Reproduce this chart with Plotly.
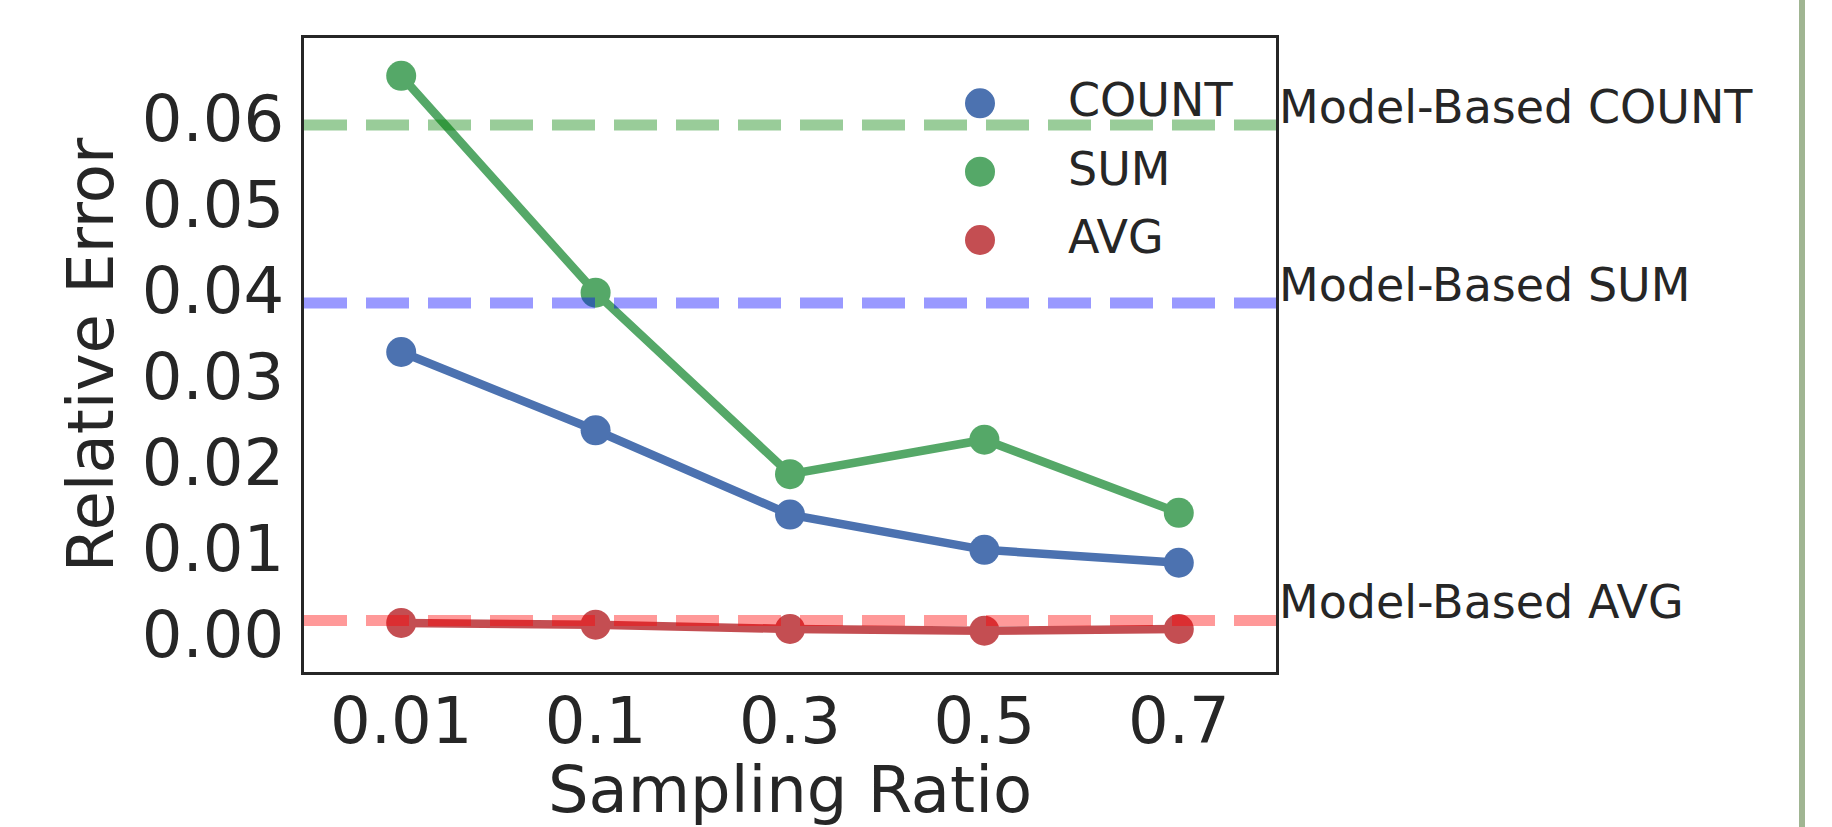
import plotly.graph_objects as go

# ---------------- data ----------------
sampling_ratios = ["0.01", "0.1", "0.3", "0.5", "0.7"]
count_err = [0.0329, 0.0238, 0.0140, 0.0099, 0.0084]
sum_err = [0.0650, 0.0398, 0.0187, 0.0227, 0.0142]
avg_err = [0.0014, 0.0012, 0.0007, 0.0005, 0.0007]

series_names = ["COUNT", "SUM", "AVG"]
series_values = [count_err, sum_err, avg_err]
series_colors = ["#4C72B0", "#55A868", "#C44E52"]

model_labels = ["Model-Based COUNT", "Model-Based SUM", "Model-Based AVG"]
model_values = [0.0593, 0.0386, 0.0017]
model_colors = ["rgba(0,128,0,0.4)", "rgba(0,0,255,0.4)", "rgba(255,0,0,0.4)"]

y_tick_vals = [0.00, 0.01, 0.02, 0.03, 0.04, 0.05, 0.06]
y_tick_text = ["0.00", "0.01", "0.02", "0.03", "0.04", "0.05", "0.06"]

# ---------------- layout geometry (pixels) ----------------
W, H = 1832, 827
ML, MR, MT, MB = 304, 556, 38, 155
PW = W - ML - MR
PH = H - MT - MB


def px_x(x):
    return (x - ML) / PW


def px_y(y):
    return (H - MB - y) / PH


FONT = "DejaVu Sans"
TXT = "#262626"

fig = go.Figure()

for name, vals, col in zip(series_names, series_values, series_colors):
    fig.add_trace(go.Scatter(
        x=sampling_ratios, y=vals, name=name, mode="lines+markers",
        line=dict(color=col, width=8.5),
        marker=dict(color=col, size=30),
        showlegend=False,
    ))

shapes = []
annotations = []

# model-based reference lines
for lab, val, col in zip(model_labels, model_values, model_colors):
    shapes.append(dict(type="line", xref="paper", yref="y", x0=0, x1=1,
                       y0=val, y1=val, layer="above",
                       line=dict(color=col, width=11, dash="43px,19px")))
    annotations.append(dict(xref="paper", yref="y", x=1, y=val, text=lab,
                            showarrow=False, xanchor="left", yanchor="bottom",
                            xshift=1, yshift=-11,
                            font=dict(family=FONT, size=46, color=TXT)))

# custom legend (large round markers like the original)
leg_x_marker = 980
leg_x_text = 1066
leg_y = [103.3, 171.7, 240.0]
for name, col, yy in zip(series_names, series_colors, leg_y):
    shapes.append(dict(type="circle", xref="paper", yref="paper",
                       xsizemode="pixel", ysizemode="pixel",
                       xanchor=px_x(leg_x_marker), yanchor=px_y(yy),
                       x0=-15, x1=15, y0=-15, y1=15,
                       fillcolor=col, line=dict(width=0)))
    annotations.append(dict(xref="paper", yref="paper",
                            x=px_x(leg_x_text), y=px_y(yy + 15),
                            text=name, showarrow=False,
                            xanchor="left", yanchor="bottom", yshift=-11,
                            font=dict(family=FONT, size=46, color=TXT)))

# right-hand border line of the page
shapes.append(dict(type="line", xref="paper", yref="paper",
                   x0=px_x(1802), x1=px_x(1802), y0=px_y(H), y1=px_y(0),
                   line=dict(color="#A0B592", width=6)))

fig.update_layout(
    width=W, height=H,
    margin=dict(l=ML, r=MR, t=MT, b=MB, pad=0),
    paper_bgcolor="white", plot_bgcolor="white",
    font=dict(family=FONT, size=64, color=TXT),
    shapes=shapes, annotations=annotations,
    showlegend=False,
)

fig.update_xaxes(
    type="category", range=[-0.5, 4.5],
    showgrid=False, zeroline=False,
    showline=True, mirror=True, linecolor=TXT, linewidth=3,
    ticks="", ticklabelstandoff=-9,
    tickfont=dict(family=FONT, size=64, color=TXT),
    title=dict(text="Sampling Ratio", standoff=9,
               font=dict(family=FONT, size=64, color=TXT)),
)
fig.update_yaxes(
    range=[-0.0043, 0.0694],
    tickvals=y_tick_vals, ticktext=y_tick_text,
    showgrid=False, zeroline=False,
    showline=True, mirror=True, linecolor=TXT, linewidth=3,
    ticks="", ticklabelstandoff=4,
    tickfont=dict(family=FONT, size=64, color=TXT),
    title=dict(text="Relative Error", standoff=8,
               font=dict(family=FONT, size=64, color=TXT)),
)

fig.write_html(
    "out.html",
    config={"displayModeBar": False},
    post_script="document.body.style.margin='0';document.body.style.overflow='hidden';",
)
